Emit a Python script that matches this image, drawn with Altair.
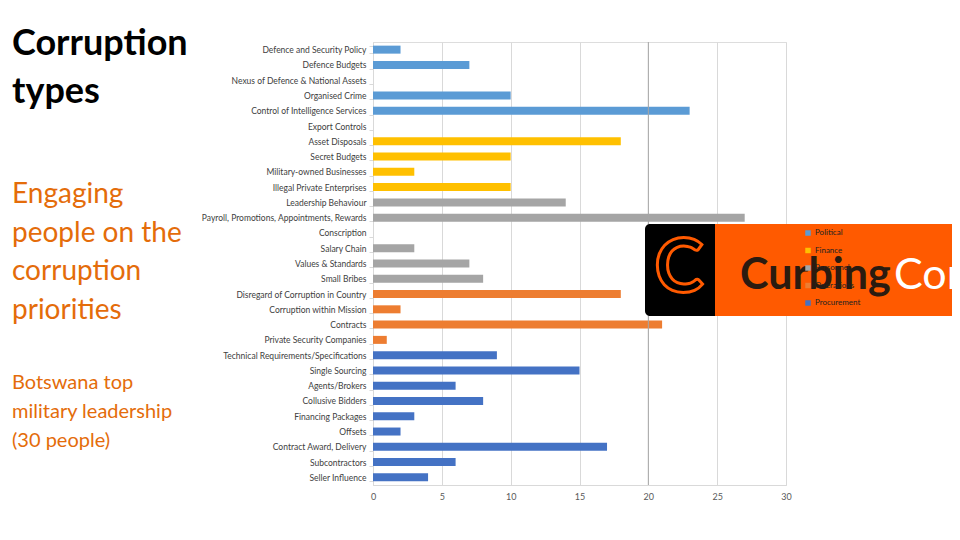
import altair as alt
import pandas as pd

categories = [
    "Defence and Security Policy", "Defence Budgets", "Nexus of Defence & National Assets",
    "Organised Crime", "Control of Intelligence Services", "Export Controls",
    "Asset Disposals", "Secret Budgets", "Military-owned Businesses", "Illegal Private Enterprises",
    "Leadership Behaviour", "Payroll, Promotions, Appointments, Rewards", "Conscription",
    "Salary Chain", "Values & Standards", "Small Bribes",
    "Disregard of Corruption in Country", "Corruption within Mission", "Contracts",
    "Private Security Companies",
    "Technical Requirements/Specifications", "Single Sourcing", "Agents/Brokers",
    "Collusive Bidders", "Financing Packages", "Offsets", "Contract Award, Delivery",
    "Subcontractors", "Seller Influence",
]
values = [2, 7, 0, 10, 23, 0,
          18, 10, 3, 10,
          14, 27, 0, 3, 7, 8,
          18, 2, 21, 1,
          9, 15, 6, 8, 3, 2, 17, 6, 4]
groups = (["Political"] * 6 + ["Finance"] * 4 + ["Personnel"] * 6 +
          ["Operations"] * 4 + ["Procurement"] * 9)
group_names = ["Political", "Finance", "Personnel", "Operations", "Procurement"]
group_colors = ["#5B9BD5", "#FFC000", "#A5A5A5", "#ED7D31", "#4472C4"]
x_ticks = [0, 5, 10, 15, 20, 25, 30]

df = pd.DataFrame({"category": categories, "value": values, "group": groups})

FONT = "Lato"

bars = alt.Chart(df).mark_bar(height=8).encode(
    x=alt.X("value:Q", scale=alt.Scale(domain=[0, 30], nice=False),
            axis=alt.Axis(values=x_ticks, title=None, grid=True, gridColor="#D9D9D9",
                          ticks=False, domainColor="#D9D9D9", labelFontSize=9,
                          labelColor="#595959", labelPadding=7, labelFont=FONT,
                          labelFlush=False)),
    y=alt.Y("category:N", sort=categories, scale=alt.Scale(paddingInner=0.5, paddingOuter=0.25),
            axis=alt.Axis(title=None, labelFontSize=8.5, labelColor="#404040", labelFont=FONT,
                          tickColor="#D9D9D9", tickSize=4, domainColor="#D9D9D9",
                          labelPadding=3, labelLimit=300, tickBand="extent")),
    color=alt.Color("group:N", scale=alt.Scale(domain=group_names, range=group_colors),
                    legend=alt.Legend(orient="none", legendX=431, legendY=187, title=None,
                                      symbolType="square", symbolSize=30, labelFontSize=8,
                                      labelFont=FONT, labelColor="#222222", rowPadding=9.5,
                                      symbolStrokeWidth=0, labelOffset=3)),
)

rule20 = alt.Chart(pd.DataFrame({"v": [20]})).mark_rule(color="#A6A6A6", strokeWidth=1).encode(
    x="v:Q")

logo_black = alt.Chart(pd.DataFrame({"a": [0]})).mark_rect(
    color="#000000", cornerRadius=5).encode(
    x=alt.value(272), x2=alt.value(350), y=alt.value(182), y2=alt.value(274))
logo_orange = alt.Chart(pd.DataFrame({"a": [0]})).mark_rect(color="#FF5A00").encode(
    x=alt.value(342), x2=alt.value(600), y=alt.value(182), y2=alt.value(274))
logo_c = alt.Chart(pd.DataFrame({"t": ["C"]})).mark_text(
    font=FONT, fontSize=74, fontWeight="bold", fill="#000000", stroke="#FF5A00",
    strokeWidth=3, align="center", baseline="middle").encode(
    text="t:N", x=alt.value(306), y=alt.value(228))
logo_curbing = alt.Chart(pd.DataFrame({"t": ["Curbing"]})).mark_text(
    font=FONT, fontSize=43, fontWeight="bold", color="#2B1B10", align="left",
    baseline="alphabetic").encode(text="t:N", x=alt.value(367), y=alt.value(247))
logo_corr = alt.Chart(pd.DataFrame({"t": ["Corruption"]})).mark_text(
    font=FONT, fontSize=43, fontWeight="normal", color="#FFFFFF", align="left",
    baseline="alphabetic").encode(text="t:N", x=alt.value(521), y=alt.value(247))

title1 = alt.Chart(pd.DataFrame({"t": ["Corruption\ntypes"]})).mark_text(
    font=FONT, fontSize=36, fontWeight="bold", color="#000000", align="left",
    baseline="alphabetic", lineBreak="\n", lineHeight=48).encode(
    text="t:N", x=alt.value(-361), y=alt.value(13))
title2 = alt.Chart(pd.DataFrame({"t": ["Engaging\npeople on the\ncorruption\npriorities"]})).mark_text(
    font=FONT, fontSize=28, color="#E46C0A", align="left",
    baseline="alphabetic", lineBreak="\n", lineHeight=38.5).encode(
    text="t:N", x=alt.value(-361), y=alt.value(161))
title3 = alt.Chart(pd.DataFrame({"t": ["Botswana top\nmilitary leadership\n(30 people)"]})).mark_text(
    font=FONT, fontSize=20, color="#E46C0A", align="left",
    baseline="alphabetic", lineBreak="\n", lineHeight=29).encode(
    text="t:N", x=alt.value(-361), y=alt.value(347))

chart = alt.layer(
    bars, rule20, logo_black, logo_orange, logo_c, logo_curbing, logo_corr,
    title1, title2, title3
).properties(
    width=413, height=443,
    autosize=alt.AutoSizeParams(type="none"),
    padding={"left": 365, "top": 34, "right": 166, "bottom": 47},
).configure_view(stroke=None).configure(font=FONT)

chart.save("out.html", embed_options={"renderer": "svg", "actions": False})
